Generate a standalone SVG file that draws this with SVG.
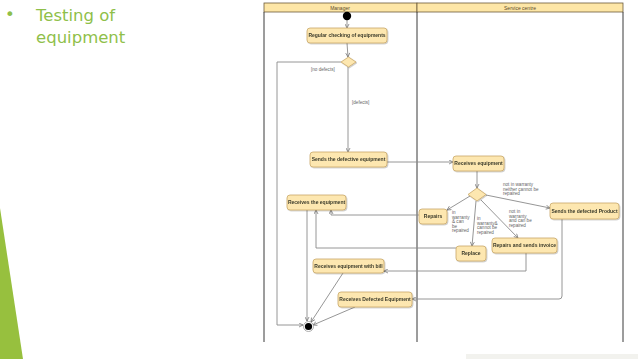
<svg xmlns="http://www.w3.org/2000/svg" width="638" height="359" viewBox="0 0 638 359">
<style>
.title{font-family:"DejaVu Sans",sans-serif;font-size:16.5px;fill:#8fbf4a}
.node rect{fill:#fde7b0;stroke:#c9a86a;stroke-width:0.8}
.node text{font-family:"Liberation Sans",Arial,sans-serif;font-size:5px;font-weight:bold;fill:#3a3a2a;text-anchor:middle}
.lane{fill:none;stroke:#3a3a3a;stroke-width:1}
.hdr{fill:#fde6a6;stroke:#6b5a3a;stroke-width:0.8}
.hdrt{font-family:"Liberation Sans",Arial,sans-serif;font-size:5px;fill:#5a4a2a;text-anchor:middle}
.edge{fill:none;stroke:#8a8a8a;stroke-width:0.9}
.lbl{font-family:"Liberation Sans",Arial,sans-serif;font-size:4.6px;fill:#666}
.dia{fill:#fde7b0;stroke:#c9a86a;stroke-width:0.8}
</style>
<defs>
<marker id="arr" viewBox="0 0 10 10" refX="9" refY="5" markerWidth="5" markerHeight="5" orient="auto" markerUnits="userSpaceOnUse">
<path d="M1,1 L9,5 L1,9" fill="none" stroke="#6a6a6a" stroke-width="1.4"/>
</marker>
<filter id="sh" x="-10%" y="-20%" width="130%" height="160%">
<feDropShadow dx="0.8" dy="0.8" stdDeviation="0.6" flood-color="#000" flood-opacity="0.25"/>
</filter>
</defs>
<rect width="638" height="359" fill="#fff"/>
<polygon points="0,208 23,359 0,359" fill="#97c03e"/>
<rect x="466" y="354" width="172" height="5" fill="#f2f2ee"/>
<text class="title" x="5" y="20">•</text>
<text class="title" x="36" y="21">Testing of</text>
<text class="title" x="36" y="43">equipment</text>

<g id="swimlanes">
<rect class="hdr" x="264" y="3" width="153" height="9"/>
<rect class="hdr" x="417" y="3" width="206" height="9"/>
<text class="hdrt" x="340" y="9.5">Manager</text>
<text class="hdrt" x="520" y="9.5">Service centre</text>
<line class="lane" x1="264" y1="12" x2="264" y2="342"/>
<line class="lane" x1="417" y1="12" x2="417" y2="342"/>
<line class="lane" x1="623" y1="12" x2="623" y2="342"/>
</g>

<g id="connectors">
<line class="edge" x1="347" y1="20" x2="347" y2="28" marker-end="url(#arr)"/>
<line class="edge" x1="347" y1="43" x2="348" y2="57" marker-end="url(#arr)"/>
<polyline class="edge" points="341,62 277,62 277,325 303,325" marker-end="url(#arr)"/>
<line class="edge" x1="348" y1="67" x2="348" y2="152" marker-end="url(#arr)"/>
<line class="edge" x1="387" y1="162" x2="453" y2="162" marker-end="url(#arr)"/>
<line class="edge" x1="477" y1="171" x2="477" y2="188" marker-end="url(#arr)"/>
<line class="edge" x1="470" y1="196" x2="447" y2="210" marker-end="url(#arr)"/>
<line class="edge" x1="476" y1="201" x2="472" y2="246" marker-end="url(#arr)"/>
<line class="edge" x1="481" y1="200" x2="518" y2="238" marker-end="url(#arr)"/>
<line class="edge" x1="486" y1="195" x2="550" y2="208" marker-end="url(#arr)"/>
<polyline class="edge" points="419,215 331,215 331,210" marker-end="url(#arr)"/>
<polyline class="edge" points="456,248 316,248 316,210" marker-end="url(#arr)"/>
<line class="edge" x1="307" y1="210" x2="307" y2="321" marker-end="url(#arr)"/>
<polyline class="edge" points="526,253 526,271 384,271" marker-end="url(#arr)"/>
<path class="edge" d="M562,219 L562,296 Q562,299 559,299 L412,299" marker-end="url(#arr)"/>
<line class="edge" x1="343" y1="273" x2="311" y2="322" marker-end="url(#arr)"/>
<line class="edge" x1="355" y1="307" x2="313" y2="325" marker-end="url(#arr)"/>
<text class="lbl" x="311" y="71">[no defects]</text>
<text class="lbl" x="352" y="104">[defects]</text>
<text class="lbl" x="452" y="214"><tspan x="452">in</tspan><tspan x="452" dy="4.5">warranty</tspan><tspan x="452" dy="4.5">&amp; can</tspan><tspan x="452" dy="4.5">be</tspan><tspan x="452" dy="4.5">repaired</tspan></text>
<text class="lbl" x="477" y="220"><tspan x="477">in</tspan><tspan x="477" dy="4.5">warranty&amp;</tspan><tspan x="477" dy="4.5">cannot be</tspan><tspan x="477" dy="4.5">repaired</tspan></text>
<text class="lbl" x="509" y="213"><tspan x="509">not in</tspan><tspan x="509" dy="4.5">warranty</tspan><tspan x="509" dy="4.5">and can be</tspan><tspan x="509" dy="4.5">repaired</tspan></text>
<text class="lbl" x="503" y="186"><tspan x="503">not in warranty</tspan><tspan x="503" dy="4.5">neither cannot be</tspan><tspan x="503" dy="4.5">repaired</tspan></text>
</g>

<g id="start"><circle cx="347" cy="16" r="4.2" fill="#000"/></g>
<g id="final"><circle cx="308.5" cy="326.5" r="5" fill="#fff" stroke="#999" stroke-width="0.8"/><circle cx="308.5" cy="326.5" r="3.6" fill="#000"/></g>

<g id="n-regular" class="node" filter="url(#sh)"><rect x="307" y="28" width="80" height="15" rx="3"/><text x="347" y="37.3">Regular checking of equipments</text></g>
<g id="d-defects"><polygon class="dia" points="348.5,57 356,62 348.5,67 341,62" filter="url(#sh)"/></g>
<g id="n-sends" class="node" filter="url(#sh)"><rect x="310" y="152" width="77" height="15" rx="3"/><text x="348.5" y="161.3">Sends the defective equipment</text></g>
<g id="n-receives-eq" class="node" filter="url(#sh)"><rect x="453" y="156" width="51" height="15" rx="3"/><text x="478.5" y="165.3">Receives equipment</text></g>
<g id="d-warranty"><polygon class="dia" points="477,188 486,194.5 477,201 468,194.5" filter="url(#sh)"/></g>
<g id="n-repairs" class="node" filter="url(#sh)"><rect x="419" y="209" width="28" height="15" rx="3"/><text x="433" y="218.3">Repairs</text></g>
<g id="n-replace" class="node" filter="url(#sh)"><rect x="456" y="246" width="30" height="15" rx="3"/><text x="471" y="255.3">Replace</text></g>
<g id="n-repairs-invoice" class="node" filter="url(#sh)"><rect x="492" y="238" width="65" height="15" rx="3"/><text x="524.5" y="247.3">Repairs and sends invoice</text></g>
<g id="n-sends-product" class="node" filter="url(#sh)"><rect x="550" y="203" width="69" height="16" rx="3"/><text x="584.5" y="212.8">Sends the defected Product</text></g>
<g id="n-receives-the" class="node" filter="url(#sh)"><rect x="287" y="195" width="59" height="15" rx="3"/><text x="316.5" y="204.3">Receives the equipment</text></g>
<g id="n-receives-bill" class="node" filter="url(#sh)"><rect x="313" y="259" width="71" height="14" rx="3"/><text x="348.5" y="267.8">Receives equipment with bill</text></g>
<g id="n-receives-defected" class="node" filter="url(#sh)"><rect x="338" y="292" width="74" height="15" rx="3"/><text x="375" y="301.3">Receives Defected Equipment</text></g>
</svg>
